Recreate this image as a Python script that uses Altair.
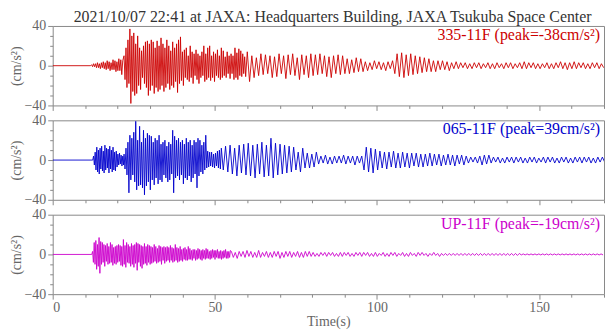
import altair as alt
import pandas as pd

TITLE = "2021/10/07 22:41 at JAXA: Headquarters Building, JAXA Tsukuba Space Center"
LABELS = ["335-11F (peak=-38cm/s²)", "065-11F (peak=39cm/s²)", "UP-11F (peak=-19cm/s²)"]
COLORS = ["#cc0000", "#0000cc", "#cc00cc"]
X_TICKS = list(range(0, 171, 10))
Y_TICKS = list(range(-40, 41, 10))

# ---- 335-11F : blocks of successive extremes (start time s, step s, values cm/s2)
P1_A = [0, 1, -1, 2, -1, 2, -2, 3, -2, 2, -3, 3, -2, 4, -3, 3, -4, 5, -3, 4, -5, 3, -4, 6, -4, 5, -6, 4, -5, 7, -5, 6, -9, 5]
P1_B = [10, -14, 18, -22,
        26, -18, 37, -38, 30, -26,
        33, -30, 22, -28, 30, -20, 18, -24,
        15, -12, 20, -18, 24, -22, 25, -30, 22, -25, 26, -20,
        24, -28, 18, -22, 25, -26, 20, -24, 28, -20, 22, -26,
        18, -22, 26, -18, 20, -24, 15, -20, 24, -22, 18, -16,
        22, -27, 26, -18, 29, -15, 14, -20,
        16, -12, 18, -14, 10, -16, 20, -12, 14, -18, 12, -10,
        16, -14, 12, -18, 10, -12, 14, -10, 20, -16, 12, -14,
        18, -12, 20, -15, 10, -12, 14, -16, 12, -10, 16, -12,
        10, -14, 18, -12, 15, -10, 9, -12, 14, -8, 10, -13,
        12, -8, 10, -14, 18, -12, 13, -14, 17, -10, 15, -11, 12, -8, 9, -11]
P1_C = [14, -16, 10, -12, 8, -10, 12, -9, 11,
        -8, 10, -12, 9, -11, 12, -8, 10, -13, 11, -9, 12, -10,
        8, -14, 11, -9, 10, -12, 12,
        -10, 11, -9, 12, -8, 10, -11, 9, -12, 10, -8, 11, -9, 10,
        -8, 7, -8, 6, -7, 8, -6, 7, -6,
        4, -5, 3, -4, 5, -3, 4, -4, 3, -5, 4, -3, 5,
        -8, 12, -11, 13, -12, 11, -10, 12, -9, 10, -8, 9,
        -7, 8, -6, 7, -6, 5, -6, 5, -4, 5, -4, 4, -5,
        3, -3, 4, -3, 3, -2, 3, -3, 2, -3, 3, -2, 3, -3, 2, -2, 3, -3, 2, -3,
        3, -2, 2, -3, 3, -2, 3, -3, 2, -2, 3, -3, 4, -3, 3, -2, 3, -3, 2, -3,
        2, -2, 3, -3, 2, -3, 3, -2, 4, -3, 3, -4, 3, -3, 4, -3, 3, -2, 3, -3,
        2, -3, 3, -2, 3, -3, 2, -2]
P1_BLOCKS = [(11.7, 0.3, P1_A), (22.0, 0.3, P1_B), (60.0, 0.7, P1_C)]

# ---- 065-11F
P2_A = [0, 4, -5, 8, -10, 13, -12, 10, -14, 12, -9, 14, -11, 9, -13, 15, -10, 12, -8, 11, -13, 14, -9, 10, -12,
        13, -10, 8, -11, 9, -7, 6, -5, 7, -4, 5, -6, 4, -5]
P2_B = [6, -9, 12, -15, 18,
        -33, 25, -20, 22, -15, 28,
        -22, 39, -30, 20, -26, 34, -25, 18,
        -28, 30, -35, 22, -26, 27, -22, 25, -30, 24,
        -20, 18, -25, 22, -18, 20, -24, 25, -20, 16, -22, 18,
        -15, 20, -18, 14, -22, 18, -20, 16, -14, 30, -33, 24,
        -18, 20, -16, 22, -20, 18, -15, 20, -24, 16, -18, 22,
        -20, 18, -16, 20, -22, 15, -18, 20, -14, 18, -28, 22,
        -16, 20, -12, 15, -14, 18, -10, 25, -8, 9, -7, 8,
        -6, 8, -7, 6, -8, 7, -6, 9, -8, 10, -9, 12]
P2_C = [-10, 14, -12, 15, -14, 12, -16, 15, -13, 16, -15,
        17, -16, 15, -18, 16, -14, 18, -17, 15, -16, 22, -18, 17, -15,
        16, -14, 15, -13, 14, -12, 13, -10,
        8, -12, 12, -8, 7, -8, 6, -7, 8,
        -4, 4, -3, 5, -4, 3, -4, 4, -3, 4, -3, 5, -4, 4, -3, 4, -5, 4, -3, 4,
        -10, 13, -12, 12, -13, 11, -10,
        9, -8, 8, -9, 8, -7, 9, -8, 7, -8, 8, -7, 7, -8, 7, -6, 7, -7, 6, -7,
        6, -6, 7, -6, 6, -5, 6, -6, 5, -5, 6, -5, 5, -6, 5, -4, 5, -5, 4,
        -3, 3, -2, 3, -3, 4, -5, 5, -4, 5, -3, 3, -2, 3, -3, 2, -3, 3, -2, 3,
        -3, 3, -2, 3, -3, 2, -3, 3, -2, 3, -3, 2, -2, 3, -3, 3, -2, 3, -3, 2,
        -3, 3, -2, 3, -3, 2, -3, 3, -2, 3, -3, 3, -2, 3, -3, 2, -3, 3, -2, 3, -2]
P2_BLOCKS = [(12.35, 0.25, P2_A), (22.0, 0.3, P2_B), (52.6, 0.7, P2_C)]

# ---- UP-11F
P3_A = [0, 3, -8, 12, -10, 14, -15, 10, -12, 17, -19, 13,
        -10, 12, -8, 10, -12, 9, -7, 11, -10, 8, -9, 12, -8, 10, -11, 7, -9, 8, -10, 9,
        -8, 10, -7, 9, -11, 8, -12, 15, -10, 9, -13, 12, -8, 10, -9, 8, -12, 11, -10, 9,
        -13, 10, -9, 12, -16, 11, -8, 10, -12, 9, -14, 8, -10, 11, -9, 8, -11, 10, -8, 9,
        -10, 8, -9, 7, -8, 10, -7, 8, -9, 6, -8, 9, -7, 8, -10, 7, -6, 8, -9, 7,
        -7, 8, -6, 7, -8, 9, -6, 7, -8, 6, -7, 10, -6, 7, -8, 6, -7, 8, -6, 5, -7, 6, -5, 7, -6, 5, -6, 8,
        -5, 6, -5, 4, -6, 5, -4, 5, -6, 4, -5, 6, -4, 5, -5, 4, -6, 5, -4, 4, -5, 6, -4, 5, -4, 3,
        -5, 4, -4, 5, -3, 4, -5, 4, -3, 5, -4, 3, -4, 4, -5, 3, -4, 4, -3, 5, -4, 3, -4, 3, -3, 4]
P3_B = [3, -3, 2, -4, 3, -2, 3, -3, 4, -2, 3, -3, 2, -3, 4, -3, 2, -2, 3, -3, 2, -3, 3, -2, 3, -4, 2, -3, 3, -2,
        3, -3, 2, -2, 3, -3, 2, -3, 3, -2, 3, -2,
        2, -2, 1, -2, 2, -1, 2, -2, 2, -1, 2, -2, 1, -2, 2, -2, 2, -1, 2, -2, 1, -2, 2, -1, 2, -2, 2, -1, 2, -2,
        1, -2, 2, -2, 1, -1, 2, -2, 1, -2, 2, -1, 2, -2, 1, -1, 2, -2, 1, -2, 2, -1, 1, -2, 2, -1, 2, -1, 1, -2,
        1, -1, 2, -1, 1, -2, 1,
        -1, 1, -1, 1, -1, 1, -1, 1, -1, 1, -1, 1, -1, 1, -1, 1, -1, 1, -1, 1,
        -1, 1, -1, 1, -1, 1, -1, 1, -1, 1, -1, 1, -1, 1, -1, 1, -1, 1, -1, 1,
        -0.5, 0.5, -0.5, 0.5, -0.5, 0.5, -0.5, 0.5, -0.5, 0.5, -0.5, 0.5, -0.5, 0.5, -0.5, 0.5, -0.5, 0.5, -0.5, 0.5,
        -0.5, 0.5, -0.5, 0.5, -0.5, 0.5, -0.5, 0.5, -0.5, 0.5, -0.5, 0.5, -0.5, 0.5, -0.5, 0.5, -0.5, 0.5, -0.5, 0.5,
        -0.5, 0.5, -0.5]
P3_BLOCKS = [(12.05, 0.25, P3_A), (55.1, 0.6, P3_B)]

W, H = 555, 80
FONT = "Liberation Serif"


def build(blocks):
    t, a = [0.0], [0.0]
    for t0, dt, vals in blocks:
        for i, v in enumerate(vals):
            t.append(round(t0 + i * dt, 3))
            a.append(v)
    return pd.DataFrame({"t": t, "a": a})


def panel(blocks, color, label, last):
    df = build(blocks)
    xaxis = dict(values=X_TICKS, labels=last, title="Time(s)" if last else "",
                 labelExpr="datum.value % 50 == 0 ? datum.label : ''",
                 tickSize={"condition": {"test": "datum.value % 50 == 0", "value": 5}, "value": 3},
                 labelPadding=1, titlePadding=1)
    line = alt.Chart(df).mark_line(color=color, strokeWidth=0.9, clip=True).encode(
        x=alt.X("t:Q", scale=alt.Scale(domain=[0, 170], nice=False, zero=False), axis=alt.Axis(**xaxis)),
        y=alt.Y("a:Q", scale=alt.Scale(domain=[-40, 40], nice=False),
                axis=alt.Axis(values=Y_TICKS, title="(cm/s²)",
                              labelExpr="datum.value % 40 == 0 ? datum.label : ''",
                              tickSize={"condition": {"test": "datum.value % 40 == 0", "value": 5}, "value": 3},
                              labelPadding=2, titlePadding=1)),
    )
    txt = alt.Chart(pd.DataFrame({"label": [label]})).mark_text(
        align="right", baseline="top", font=FONT, fontSize=16, color=color
    ).encode(x=alt.value(W - 4), y=alt.value(1), text="label:N")
    return alt.layer(line, txt).properties(width=W, height=H)


chart = alt.vconcat(
    panel(P1_BLOCKS, COLORS[0], LABELS[0], False),
    panel(P2_BLOCKS, COLORS[1], LABELS[1], False),
    panel(P3_BLOCKS, COLORS[2], LABELS[2], True),
    spacing=15,
    bounds="flush",
).properties(
    title=alt.TitleParams(TITLE, font=FONT, fontSize=16, fontWeight="normal", color="#333333",
                          anchor="middle", offset=-7, dx=26),
    padding={"left": 0, "top": 0, "right": 0, "bottom": 0},
).configure_view(
    stroke="#888888", strokeWidth=1
).configure_axis(
    grid=False, domain=False, tickColor="#888888", tickWidth=1,
    labelFont=FONT, labelFontSize=14, labelColor="#666666",
    titleFont=FONT, titleFontSize=14, titleFontWeight="normal", titleColor="#666666",
)

chart.save("out.html", embed_options={"renderer": "svg", "actions": False})
